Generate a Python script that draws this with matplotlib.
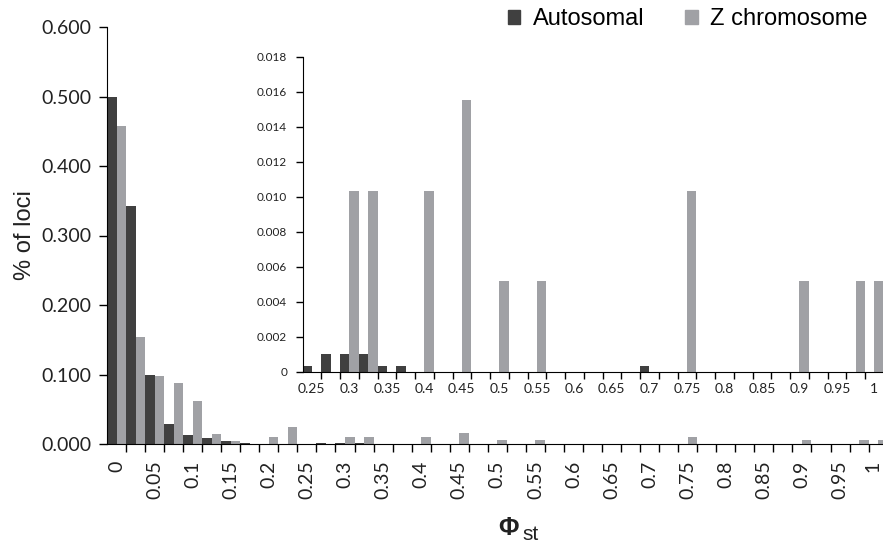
import numpy as np
import matplotlib.pyplot as plt
from matplotlib.patches import Patch
from matplotlib.transforms import ScaledTranslation

# bins of Phi_st (0 to 1, step 0.025)
bins = [0, 0.025, 0.05, 0.075, 0.1, 0.125, 0.15, 0.175, 0.2, 0.225,
        0.25, 0.275, 0.3, 0.325, 0.35, 0.375, 0.4, 0.425, 0.45, 0.475,
        0.5, 0.525, 0.55, 0.575, 0.6, 0.625, 0.65, 0.675, 0.7, 0.725,
        0.75, 0.775, 0.8, 0.825, 0.85, 0.875, 0.9, 0.925, 0.95, 0.975, 1]

autosomal = [0.499, 0.342, 0.100, 0.029, 0.0134, 0.0081, 0.0048, 0.001, 0.0005, 0.0005,
             0.0003, 0.001, 0.001, 0.001, 0.0003, 0.0003, 0, 0, 0, 0,
             0, 0, 0, 0, 0, 0, 0, 0, 0.0003, 0,
             0, 0, 0, 0, 0, 0, 0, 0, 0, 0, 0]

z_chrom = [0.458, 0.154, 0.0976, 0.0875, 0.0617, 0.0148, 0.0048, 0, 0.0100, 0.0250,
           0, 0, 0.0103, 0.0103, 0, 0, 0.0103, 0, 0.0155, 0,
           0.0052, 0, 0.0052, 0, 0, 0, 0, 0, 0, 0,
           0.0103, 0, 0, 0, 0, 0, 0.0052, 0, 0, 0.0052, 0.0052]

main_labels = ['0', '', '0.05', '', '0.1', '', '0.15', '', '0.2', '', '0.25', '',
               '0.3', '', '0.35', '', '0.4', '', '0.45', '', '0.5', '', '0.55', '',
               '0.6', '', '0.65', '', '0.7', '', '0.75', '', '0.8', '', '0.85', '',
               '0.9', '', '0.95', '', '1']
inset_start = 10  # inset shows bins from 0.25 on

DARK = '#404040'
GREY = '#a0a1a5'
TXT = '#222222'
TICKFONT = 'Lato'
LABFONT = 'Liberation Sans'

fig = plt.figure(figsize=(8.83, 5.43), dpi=100)

# main chart
ax = fig.add_axes([107/883, 99/543, 776/883, 417/543])
x = np.arange(len(bins))
ax.bar(x - 0.25, autosomal, width=0.5, color=DARK, linewidth=0)
ax.bar(x + 0.25, z_chrom, width=0.5, color=GREY, linewidth=0)
ax.set_xlim(-0.5, -0.5 + 776/19.04)
ax.set_ylim(0, 0.6)
ax.set_yticks(np.arange(0, 0.61, 0.1))
ax.set_yticklabels(['%.3f' % v for v in np.arange(0, 0.61, 0.1)],
                   fontfamily=TICKFONT, fontsize=14, color=TXT)
ax.set_xticks(x)
ax.set_xticklabels(main_labels, rotation=90, fontfamily=TICKFONT, fontsize=14, color=TXT)
ax.set_xticks(x[:-1] + 0.5, minor=True)
ax.tick_params(axis='x', which='major', length=0, pad=12)
ax.tick_params(axis='x', which='minor', length=6, width=1)
ax.tick_params(axis='y', length=6, width=1, pad=5)
for s in ['top', 'right']:
    ax.spines[s].set_visible(False)
ax.set_ylabel('% of loci', fontfamily=LABFONT, fontsize=17, color=TXT, labelpad=4)

# last label sits at the cropped edge; nudge it inside
last = ax.get_xticklabels()[-1]
last.set_transform(last.get_transform() + ScaledTranslation(-0.05, 0, fig.dpi_scale_trans))

# inset chart
xi = np.arange(len(bins) - inset_start)
ia = fig.add_axes([302.5/883, 171.3/543, 580.5/883, 315/543])
ia.patch.set_alpha(0)
ia.bar(xi - 0.25, autosomal[inset_start:], width=0.5, color=DARK, linewidth=0)
ia.bar(xi + 0.25, z_chrom[inset_start:], width=0.5, color=GREY, linewidth=0)
ia.set_xlim(-0.5, -0.5 + 580.5/18.75)
ia.set_ylim(0, 0.018)
yt = np.arange(0, 0.0181, 0.002)
ia.set_yticks(yt)
ia.set_yticklabels(['0'] + ['%.3f' % v for v in yt[1:]],
                   fontfamily=TICKFONT, fontsize=8.5, color=TXT)
ia.set_xticks(xi)
ia.set_xticklabels(main_labels[inset_start:], fontfamily=TICKFONT, fontsize=10, color=TXT)
ia.set_xticks(xi[:-1] + 0.5, minor=True)
ia.tick_params(axis='x', which='major', length=0, pad=8)
ia.tick_params(axis='x', which='minor', length=5, width=1)
ia.tick_params(axis='y', length=5, width=1, pad=6)
for s in ['top', 'right']:
    ia.spines[s].set_visible(False)

# legend
handles = [Patch(color=DARK, label='Autosomal'), Patch(color=GREY, label='Z chromosome')]
fig.legend(handles=handles, loc='center right', bbox_to_anchor=(868/883, 1 - 19/543),
           ncol=2, frameon=False, handlelength=0.53, handleheight=0.53,
           handletextpad=0.55, columnspacing=1.7, borderpad=0, borderaxespad=0,
           prop={'family': LABFONT, 'size': 17})

# x label: Phi_st
fig.text(498/883, 1 - 535/543, 'Φ', fontfamily=LABFONT, fontweight='bold',
         fontsize=18, color=TXT, ha='left', va='baseline')
fig.text(522/883, 1 - 540/543, 'st', fontfamily=LABFONT,
         fontsize=15, color=TXT, ha='left', va='baseline')

fig.savefig('out.png', dpi=100)
